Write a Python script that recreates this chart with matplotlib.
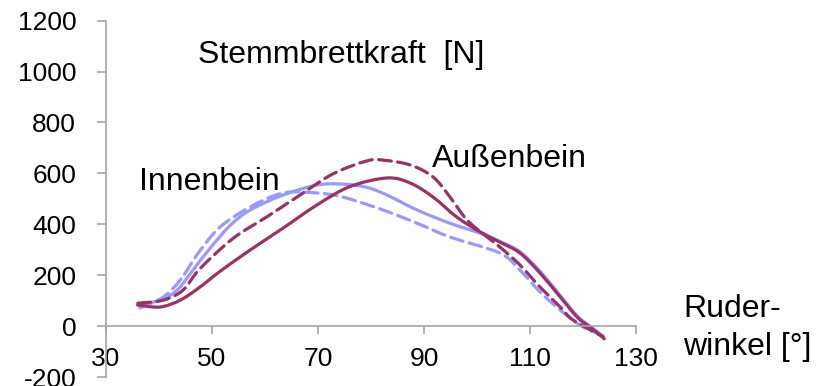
import matplotlib.pyplot as plt
from matplotlib.path import Path
from matplotlib.patches import PathPatch
from matplotlib.ticker import FixedLocator

plt.rcParams['font.family'] = ['Liberation Sans', 'DejaVu Sans']
plt.rcParams['axes.unicode_minus'] = False

# Ruderwinkel [deg] vs. Stemmbrettkraft [N]
# Innenbein (hellblau)
inn_solid_x = [36.0, 40.2, 43.4, 46.4, 49.6, 53.4, 57.2, 63.4, 69.8, 74.7, 79.2, 83.0, 88.7, 94.9, 100.6, 104.3, 108.1, 111.9, 115.7, 118.9, 121.3, 123.5]
inn_solid_y = [83, 102, 141, 220, 305, 395, 456, 515, 554, 558, 545, 515, 456, 404, 365, 333, 292, 215, 120, 40, 0, -35]
inn_dash_x = [36.4, 40.8, 44.0, 47.5, 51.5, 57.2, 63.4, 69.8, 74.7, 82.3, 88.7, 94.9, 104.3, 108.1, 111.9, 115.7, 119.4, 122.6, 124.0]
inn_dash_y = [71, 114, 181, 290, 389, 468, 523, 523, 507, 456, 404, 350, 287, 220, 134, 63, 4, -28, -40]

# Aussenbein (dunkel)
aus_solid_x = [36.0, 40.2, 44.0, 47.7, 51.5, 57.2, 63.4, 69.8, 76.0, 83.0, 87.4, 91.7, 96.2, 100.6, 104.3, 108.1, 111.9, 115.7, 118.9, 121.3, 123.2, 124.0]
aus_solid_y = [83, 75, 102, 153, 215, 299, 385, 476, 548, 582, 562, 507, 428, 370, 330, 287, 208, 114, 35, -4, -35, -50]
aus_dash_x = [36.0, 40.8, 44.5, 47.7, 54.0, 60.4, 66.6, 72.8, 79.2, 82.3, 87.4, 91.7, 94.9, 98.1, 101.9, 104.3, 108.1, 111.9, 115.7, 118.1, 123.8]
aus_dash_y = [90, 102, 141, 225, 345, 430, 515, 598, 649, 652, 633, 586, 507, 417, 350, 311, 240, 153, 75, 24, -42]

x_ticks = [30, 50, 70, 90, 110, 130]
y_ticks = [-200, 0, 200, 400, 600, 800, 1000, 1200]

light = '#9999FF'
dark = '#993366'
grey = '#A6A6A6'


def smooth_path(xs, ys):
    # geglaettete Linie wie in Excel: Bezier-Segmente durch die Messpunkte
    pts = list(zip(xs, ys))
    n = len(pts)
    verts = [pts[0]]
    codes = [Path.MOVETO]
    for i in range(n - 1):
        p0 = pts[max(i - 1, 0)]
        p1 = pts[i]
        p2 = pts[i + 1]
        p3 = pts[min(i + 2, n - 1)]
        c1 = (p1[0] + (p2[0] - p0[0]) / 6, p1[1] + (p2[1] - p0[1]) / 6)
        c2 = (p2[0] - (p3[0] - p1[0]) / 6, p2[1] - (p3[1] - p1[1]) / 6)
        verts += [c1, c2, p2]
        codes += [Path.CURVE4] * 3
    return Path(verts, codes)


def add_curve(ax, xs, ys, color, dashed=False):
    ls = (0, (4, 2)) if dashed else '-'
    ax.add_patch(PathPatch(smooth_path(xs, ys), facecolor='none', edgecolor=color,
                           lw=2.3, linestyle=ls, capstyle='round', joinstyle='round'))


fig = plt.figure(figsize=(8.18, 3.86), dpi=100)
ax = fig.add_axes([0.1296, 0.0233, 0.648, 0.9231])

add_curve(ax, inn_dash_x, inn_dash_y, light, dashed=True)
add_curve(ax, inn_solid_x, inn_solid_y, light)
add_curve(ax, aus_dash_x, aus_dash_y, dark, dashed=True)
add_curve(ax, aus_solid_x, aus_solid_y, dark)

ax.set_xlim(30, 130)
ax.set_ylim(-200, 1200)
ax.xaxis.set_major_locator(FixedLocator(x_ticks))
ax.yaxis.set_major_locator(FixedLocator(y_ticks))

for s in ['top', 'right']:
    ax.spines[s].set_visible(False)
ax.spines['bottom'].set_position(('data', 0))
for s in ['left', 'bottom']:
    ax.spines[s].set_color(grey)
    ax.spines[s].set_linewidth(1.2)

ax.tick_params(axis='y', direction='out', length=6.5, width=1.2, color=grey,
               labelsize=19, pad=15)
ax.tick_params(axis='x', direction='out', length=6, width=1.2, color=grey,
               labelsize=19, pad=9)

ax.text(47.4, 1034, 'Stemmbrettkraft  [N]', fontsize=23, va='baseline')
ax.text(36.2, 535, 'Innenbein', fontsize=23, va='baseline')
ax.text(91.5, 625, 'Außenbein', fontsize=23, va='baseline')
ax.text(138.9, 35, 'Ruder-', fontsize=23, va='baseline', clip_on=False)
ax.text(138.9, -114, 'winkel [°]', fontsize=23, va='baseline', clip_on=False)

fig.savefig('out.png', dpi=100)
